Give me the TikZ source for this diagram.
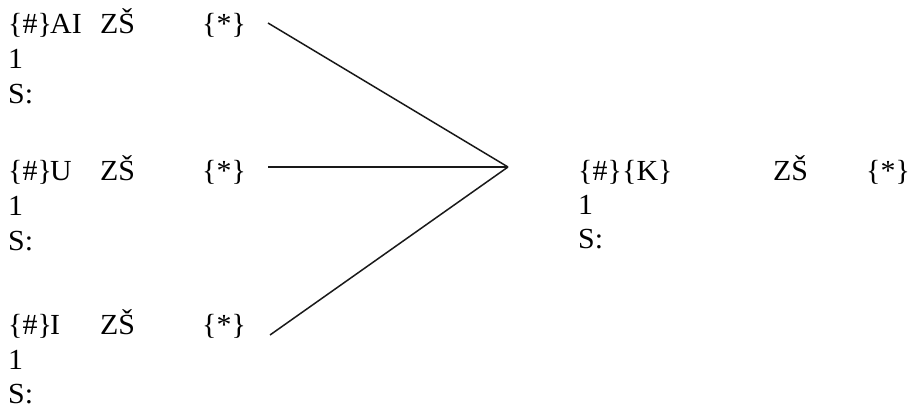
\documentclass[tikz,border=0pt]{standalone}
\usepackage{fontspec}
\setmainfont{Liberation Serif}
\newcommand{\tall}[1]{\scalebox{1.15}[1.12]{#1}}
\begin{document}
\begin{tikzpicture}[x=1pt,y=-1pt,
  txt/.style={anchor=base west,inner sep=0pt,font=\fontsize{26}{30}\selectfont},
  link/.style={line width=1.5pt,black!90}]
\useasboundingbox (0,0) rectangle (915,409);
% block 1
\node[txt] (a0) at (8,34) {\tall{\{\#\}}};
\node[txt] (a1) at (50,34) {\tall{AI}};
\node[txt] (a2) at (100,34) {\tall{ZŠ}};
\node[txt] (a3) at (202,34) {\tall{\{*\}}};
\node[txt] (a4) at (8,69) {\tall{1}};
\node[txt] (a5) at (8,104) {\tall{S:}};
% block 2
\node[txt] (b0) at (8,180) {\tall{\{\#\}}};
\node[txt] (b1) at (50,180) {\tall{U}};
\node[txt] (b2) at (100,180) {\tall{ZŠ}};
\node[txt] (b3) at (202,180) {\tall{\{*\}}};
\node[txt] (b4) at (8,215) {\tall{1}};
\node[txt] (b5) at (8,250) {\tall{S:}};
% block 3
\node[txt] (c0) at (8,334) {\tall{\{\#\}}};
\node[txt] (c1) at (50,334) {\tall{I}};
\node[txt] (c2) at (100,334) {\tall{ZŠ}};
\node[txt] (c3) at (202,334) {\tall{\{*\}}};
\node[txt] (c4) at (8,369) {\tall{1}};
\node[txt] (c5) at (8,403) {\tall{S:}};
% right block
\node[txt] (k0) at (578,180) {\tall{\{\#\}}};
\node[txt] (k1) at (622,180) {\tall{\{K\}}};
\node[txt] (k2) at (773,180) {\tall{ZŠ}};
\node[txt] (k3) at (866,180) {\tall{\{*\}}};
\node[txt] (k4) at (578,214) {\tall{1}};
\node[txt] (k5) at (578,248) {\tall{S:}};
% connectors
\coordinate (apex) at (508,167);
\coordinate (s1) at (268,23);
\coordinate (s2) at (268,167);
\coordinate (s3) at (270,335);
\draw[link] (s1) -- (apex);
\draw[link] (s2) -- (apex);
\draw[link] (s3) -- (apex);
\end{tikzpicture}
\end{document}
